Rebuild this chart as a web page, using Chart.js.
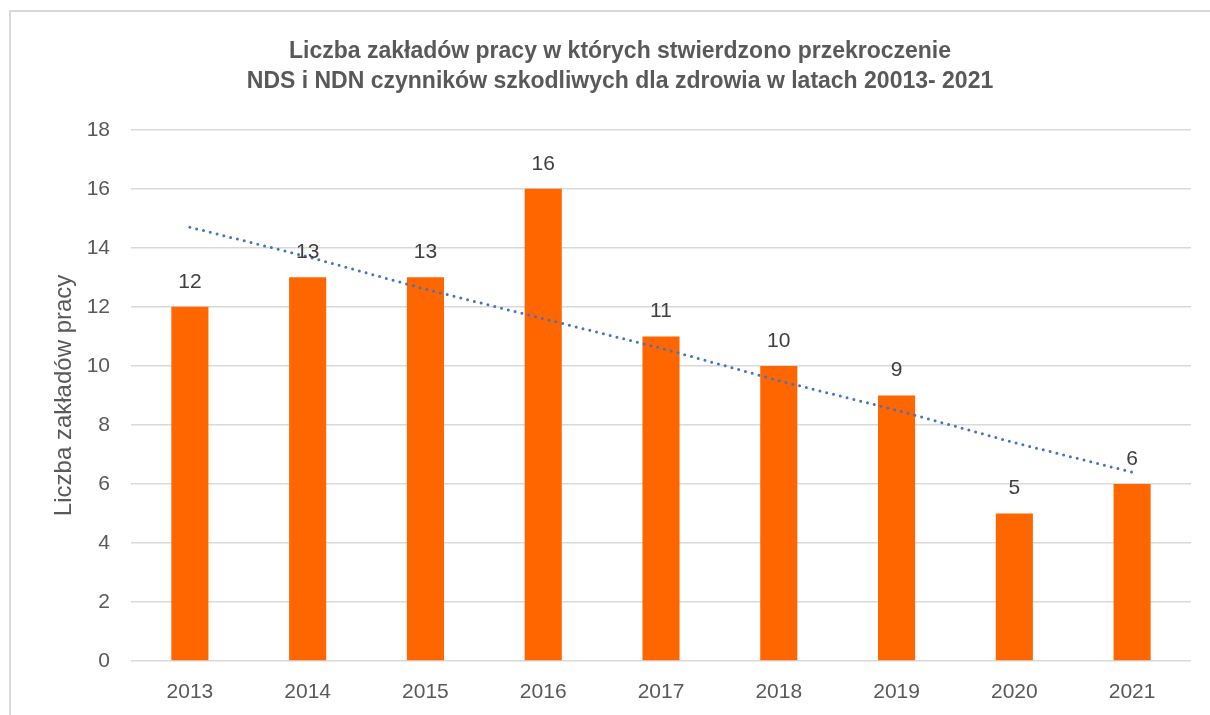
<!DOCTYPE html>
<html lang="pl">
<head>
<meta charset="utf-8">
<title>Liczba zakładów pracy</title>
<script src="https://cdn.jsdelivr.net/npm/chart.js@4.4.0/dist/chart.umd.min.js"></script>
<style>
  body { margin: 0; background: #fff; overflow: hidden; }
  #ramka { position: absolute; left: 9px; top: 10px; width: 1260px; height: 800px; border: 2px solid #d9d9d9; }
  #wrap { position: absolute; left: 0; top: 0; width: 1210px; height: 715px; }
</style>
</head>
<body>
<div id="ramka"></div>
<div id="wrap"><canvas id="wykres" width="1210" height="715"></canvas></div>
<script>
// dane z wykresu
const lata = ["2013", "2014", "2015", "2016", "2017", "2018", "2019", "2020", "2021"];
const liczbaZakladow = [12, 13, 13, 16, 11, 10, 9, 5, 6];
// linia trendu
const trend = [14.7, 13.7, 12.6, 11.6, 10.6, 9.5, 8.5, 7.4, 6.4];
const tytul = [
  "Liczba zakładów pracy w których stwierdzono przekroczenie",
  "NDS i NDN czynników szkodliwych dla zdrowia w latach 20013- 2021"
];
const tytulOsiY = "Liczba zakładów pracy";

const czcionka = "'Liberation Sans', Arial, sans-serif";

// etykiety nad słupkami
const etykiety = {
  id: "etykiety",
  afterDatasetsDraw(chart) {
    const ctx = chart.ctx;
    const meta = chart.getDatasetMeta(0);
    ctx.save();
    ctx.font = "21px " + czcionka;
    ctx.fillStyle = "#404040";
    ctx.textAlign = "center";
    ctx.textBaseline = "middle";
    meta.data.forEach((bar, i) => {
      ctx.fillText(liczbaZakladow[i], bar.x, bar.y - 25);
    });
    ctx.restore();
  }
};

const ctx = document.getElementById("wykres").getContext("2d");
const wykres = new Chart(ctx, {
  type: "bar",
  data: {
    labels: lata,
    datasets: [
      {
        label: "Liczba zakładów",
        data: liczbaZakladow,
        backgroundColor: "#ff6600",
        categoryPercentage: 1,
        barPercentage: 0.315,
        order: 2
      },
      {
        type: "line",
        label: "Trend",
        data: trend,
        borderColor: "#4472c4",
        borderWidth: 3,
        borderDash: [0, 7],
        borderCapStyle: "round",
        pointRadius: 0,
        fill: false,
        tension: 0,
        order: 1
      }
    ]
  },
  options: {
    responsive: false,
    animation: false,
    layout: { padding: { left: 49, right: 19, top: 0, bottom: 12 } },
    plugins: {
      legend: { display: false },
      tooltip: { enabled: false },
      title: {
        display: true,
        text: tytul,
        color: "#595959",
        font: { family: czcionka, size: 23, weight: "bold", lineHeight: 1.3 },
        padding: { top: 37, bottom: 33 }
      }
    },
    scales: {
      x: {
        grid: { display: false, drawTicks: false },
        border: { display: false },
        ticks: { color: "#595959", font: { family: czcionka, size: 21 }, padding: 19 },
        afterFit(scale) { scale.height = 42; }
      },
      y: {
        min: 0,
        max: 18,
        ticks: { stepSize: 2, color: "#595959", font: { family: czcionka, size: 21 }, padding: 21 },
        grid: { color: "#d9d9d9", lineWidth: 1.5, drawTicks: false },
        border: { display: false },
        title: {
          display: true,
          text: tytulOsiY,
          color: "#595959",
          font: { family: czcionka, size: 24 },
          padding: { top: 1, bottom: 0 }
        },
        afterFit(scale) { scale.width = 82; }
      }
    }
  },
  plugins: [etykiety]
});
</script>
</body>
</html>
